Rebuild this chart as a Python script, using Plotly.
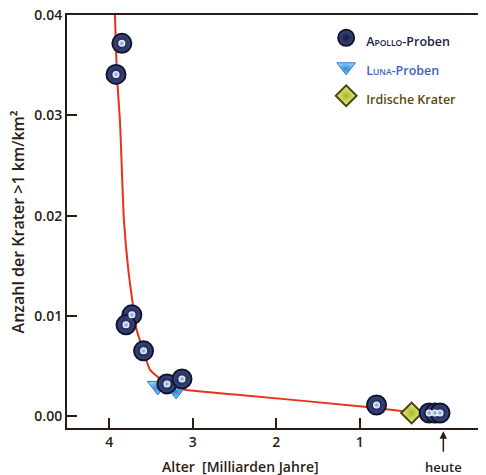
import plotly.graph_objects as go

# --- data ---
curve_age = [3.95, 3.933, 3.909, 3.873, 3.825, 3.773, 3.721, 3.673, 3.597, 3.513, 3.42, 3.333, 3.20, 3.073, 2.434, 0.915, 0.396, 0.0]
curve_n = [0.0425, 0.0400, 0.0340, 0.0295, 0.0195, 0.0146, 0.0113, 0.0086, 0.0066, 0.0046, 0.0039, 0.0033, 0.0029, 0.0026, 0.0021, 0.0009, 0.0004, 0.0002]

apollo_age = [3.85, 3.92, 3.73, 3.80, 3.59, 3.31, 3.13, 0.80, 0.17, 0.10, 0.04]
apollo_n = [0.0372, 0.0341, 0.0101, 0.0091, 0.0065, 0.0032, 0.0037, 0.0011, 0.0003, 0.0003, 0.0003]

luna_age = [3.42, 3.20]
luna_n = [0.0030, 0.0026]

earth_age = [0.38]
earth_n = [0.0003]

y_ticks = [0.0, 0.01, 0.02, 0.03, 0.04]
y_ticktext = ["0.00", "0.01", "0.02", "0.03", "0.04"]
x_ticks = [4, 3, 2, 1]

DARK = "#2b1d14"
FONT = "Open Sans"

fig = go.Figure()

fig.add_trace(go.Scatter(
    x=curve_age, y=curve_n, mode="lines", showlegend=False,
    line=dict(color="#e8321c", width=2, shape="spline", smoothing=0.5),
    hoverinfo="skip", cliponaxis=True))

fig.add_trace(go.Scatter(
    x=earth_age, y=earth_n, mode="markers",
    name="<span style='color:#5a4a0c;font-size:12.5px'>Irdische Krater</span>",
    marker=dict(symbol="diamond", size=16, color="#eef08a",
                gradient=dict(type="radial", color="#a8b826"),
                line=dict(color="#4a4510", width=2))))

fig.add_trace(go.Scatter(
    x=luna_age, y=luna_n, mode="markers",
    name="<span style='color:#3d63b8;font-size:12.5px'>L<span style='font-size:8.5px'>UNA</span>-Proben</span>",
    marker=dict(symbol="triangle-down", size=18, color="#8fd0f5",
                gradient=dict(type="radial", color="#2f86d6"),
                line=dict(color="#2a78c8", width=1))))

fig.add_trace(go.Scatter(
    x=apollo_age, y=apollo_n, mode="markers",
    name="<span style='color:#1c1f45;font-size:12.5px'>A<span style='font-size:8.5px'>POLLO</span>-Proben</span>",
    marker=dict(symbol="circle", size=19, color="#3a4c86",
                gradient=dict(type="radial", color="#15183c"),
                line=dict(color="#12142e", width=2))))

fig.add_trace(go.Scatter(
    x=apollo_age, y=apollo_n, mode="markers", showlegend=False, hoverinfo="skip",
    marker=dict(symbol="circle", size=7, color="#ffffff",
                gradient=dict(type="radial", color="#7393d8"),
                line=dict(width=0))))

axis_common = dict(showline=True, linecolor=DARK, linewidth=2, mirror=True,
                   ticks="inside", ticklen=10, tickwidth=2, tickcolor=DARK,
                   showgrid=False, zeroline=False, automargin=False,
                   ticklabeloverflow="allow",
                   tickfont=dict(family=FONT, size=14, color=DARK, weight=600))

# page body has an 8px default margin, so the figure is 8px smaller
fig.update_layout(
    width=478, height=467,
    margin=dict(l=59, r=3, t=7, b=47, autoexpand=False),
    paper_bgcolor="white", plot_bgcolor="white",
    xaxis=dict(range=[4.507, -0.475], tickvals=x_ticks, **axis_common),
    yaxis=dict(range=[-0.0012, 0.04003], tickvals=y_ticks, ticktext=y_ticktext, **axis_common),
    legend=dict(x=0.623, y=0.992, xanchor="left", yanchor="top",
                bgcolor="rgba(0,0,0,0)", borderwidth=0,
                font=dict(family=FONT, size=20, color=DARK, weight=600),
                itemsizing="trace", traceorder="reversed", itemwidth=30),
    showlegend=True,
)

fig.add_annotation(text="Anzahl der Krater >1 km/km²", xref="paper", yref="paper",
                   x=-0.118, y=0.5, textangle=-90, showarrow=False,
                   xanchor="center", yanchor="middle",
                   font=dict(family=FONT, size=16, color=DARK, weight=600))
fig.add_annotation(text="Alter  [Milliarden Jahre]", xref="paper", yref="paper",
                   x=0.416, y=-0.094, showarrow=False, xanchor="center", yanchor="middle",
                   font=dict(family=FONT, size=14, color=DARK, weight=600))
fig.add_annotation(text="heute", xref="x", yref="paper", x=0, y=-0.094,
                   showarrow=False, xanchor="center", yanchor="middle",
                   font=dict(family=FONT, size=13, color=DARK, weight=600))
fig.add_annotation(text="", xref="x", yref="paper", x=0, y=-0.008,
                   showarrow=True, ax=0, ay=22, arrowhead=2, arrowsize=1,
                   arrowwidth=1.5, arrowcolor=DARK)

fig.write_html("out.html")
